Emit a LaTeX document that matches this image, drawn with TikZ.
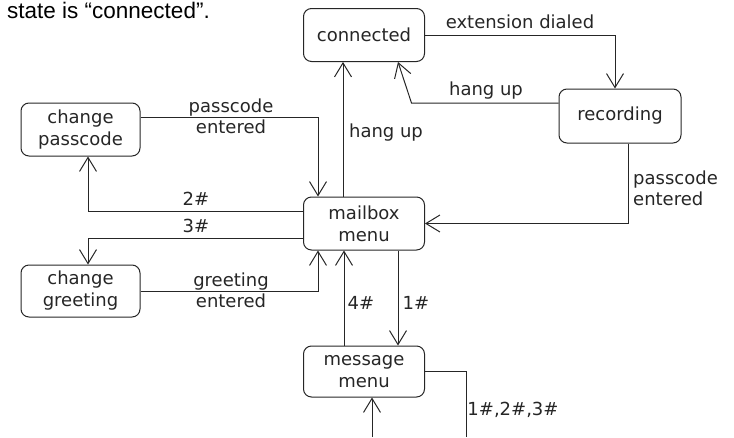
\documentclass[tikz,border=0pt]{standalone}
\usepackage{fontspec}
\setmainfont{DejaVu Sans}
\newfontfamily\titlefont{Liberation Sans}
\usetikzlibrary{arrows.meta}
\begin{document}
\begin{tikzpicture}[x=1pt,y=-1pt,
  state/.style={draw=black!85, line width=1pt, rounded corners=8pt, minimum width=121pt, minimum height=53pt, inner sep=0pt, align=center, font=\fontsize{18}{22}\selectfont, text=black!85},
  arr/.style={draw=black!85, line width=1pt, -{Straight Barb[length=14pt,width=17pt,line width=1pt]}},
  ln/.style={draw=black!85, line width=1pt},
  lbl/.style={font=\fontsize{18}{21}\selectfont, text=black!85, inner sep=0pt, align=center}]
\useasboundingbox (0,0) rectangle (734,437);
\node[anchor=base west, inner sep=0pt, font=\titlefont\fontsize{22.5}{26}\selectfont] (title) at (7,18.5) {state is “connected”.};

\node[state] (conn) at (364,35) {connected};
\node[state, minimum width=122pt, minimum height=54pt] (rec) at (620,116) {recording};
\node[state, minimum width=119pt] (cpass) at (80.5,129.5) {change\\passcode};
\node[state] (mbox) at (364,223.5) {mailbox\\menu};
\node[state, minimum width=119pt, minimum height=52pt] (cgreet) at (80.5,291) {change\\greeting};
\node[state, minimum height=51pt] (msg) at (364,371.5) {message\\menu};

\coordinate (outend) at (466,437);
\coordinate (inend) at (372,437);

\draw[arr] (conn.east) -| ([xshift=-5pt]rec.north);
\draw[arr] ([yshift=13pt]rec.west) -- ++(-147pt,0) -- ([xshift=34pt]conn.south);
\draw[arr] ([xshift=-21pt]mbox.north) -- ([xshift=-21pt]conn.south);
\draw[arr] ([yshift=12.5pt]cpass.east) -| ([xshift=-46pt]mbox.north);
\draw[arr] ([yshift=12.5pt]mbox.west) -| ([xshift=7.5pt]cpass.south);
\draw[arr] ([yshift=-14.5pt]mbox.west) -| ([xshift=7.5pt]cgreet.north);
\draw[arr] (cgreet.east) -| ([xshift=-46pt]mbox.south);
\draw[arr] ([xshift=-20pt]msg.north) -- ([xshift=-20pt]mbox.south);
\draw[arr] ([xshift=34pt]mbox.south) -- ([xshift=34pt]msg.north);
\draw[arr] ([xshift=8pt]rec.south) |- (mbox.east);
\draw[ln] (msg.east) -| (outend);
\draw[arr] (inend) -- ([xshift=8pt]msg.south);

\node[lbl] (l1) at (520,22) {extension dialed};
\node[lbl] (l2) at (486,91) {hang up};
\node[lbl] (l3) at (386,133) {hang up};
\node[lbl] (l4) at (231,116) {passcode\\entered};
\node[lbl] (l5) at (196,199) {2\#};
\node[lbl] (l6) at (196,226) {3\#};
\node[lbl] (l7) at (231,290) {greeting\\entered};
\node[lbl] (l8) at (361,303) {4\#};
\node[lbl] (l9) at (416,303) {1\#};
\node[lbl] (l10) at (513,410) {1\#,2\#,3\#};
\node[lbl, anchor=west, align=left] (l11) at (633,188) {passcode\\entered};
\end{tikzpicture}
\end{document}
